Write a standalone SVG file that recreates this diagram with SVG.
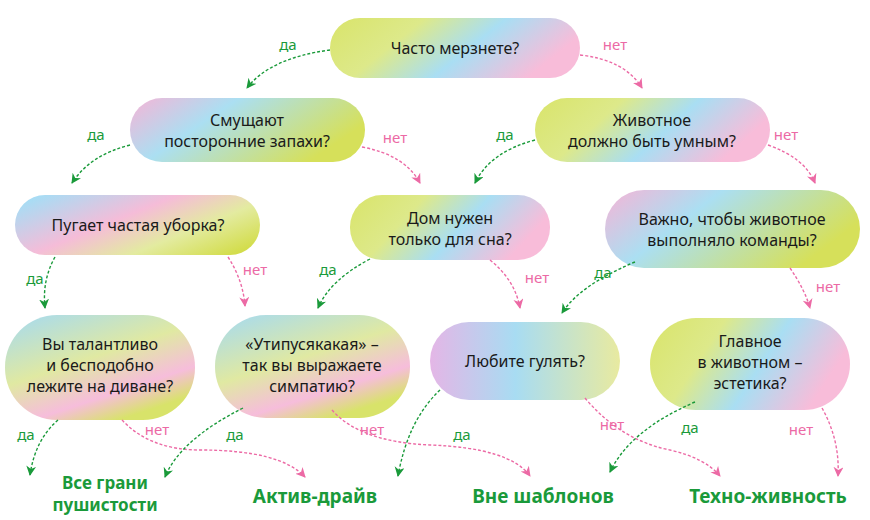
<svg xmlns="http://www.w3.org/2000/svg" width="870" height="520" viewBox="0 0 870 520">
<style>
.q{font-family:"Noto Sans","Open Sans",sans-serif;font-size:16px;fill:#1a1a1a;text-anchor:middle}
.y{font-family:"Noto Sans","Open Sans",sans-serif;font-size:15px;fill:#1a9a3a;text-anchor:middle}
.n{font-family:"Noto Sans","Open Sans",sans-serif;font-size:15px;fill:#ec6aa5;text-anchor:middle}
.o{font-family:"Noto Sans","Open Sans",sans-serif;font-size:19px;font-weight:bold;fill:#1a9a3a;text-anchor:middle}
.dy{fill:none;stroke:#1a9a3a;stroke-width:1.4;stroke-dasharray:3 2;marker-end:url(#ay)}
.dn{fill:none;stroke:#ec6aa5;stroke-width:1.4;stroke-dasharray:3 2;marker-end:url(#an)}
</style>
<defs>
<marker id="ay" markerWidth="12" markerHeight="12" refX="9" refY="5" orient="auto" markerUnits="userSpaceOnUse"><path d="M0,0 L10,5 L0,10 L3,5 z" fill="#1a9a3a"/></marker>
<marker id="an" markerWidth="12" markerHeight="12" refX="9" refY="5" orient="auto" markerUnits="userSpaceOnUse"><path d="M0,0 L10,5 L0,10 L3,5 z" fill="#ec6aa5"/></marker>
<linearGradient id="gA" x1="0" y1="0" x2="1" y2="0.3"><stop offset="0" stop-color="#d9e46a"/><stop offset="0.35" stop-color="#dde98a"/><stop offset="0.65" stop-color="#a9def3"/><stop offset="1" stop-color="#f8bcd9"/></linearGradient>
<linearGradient id="gB" x1="0" y1="0" x2="1" y2="0.4"><stop offset="0" stop-color="#f6b4d6"/><stop offset="0.4" stop-color="#abdff2"/><stop offset="1" stop-color="#d6e05a"/></linearGradient>
<linearGradient id="gC" x1="0" y1="0.2" x2="1" y2="0.8"><stop offset="0" stop-color="#a9dcf4"/><stop offset="0.4" stop-color="#f5bcd8"/><stop offset="0.7" stop-color="#e3eba0"/><stop offset="1" stop-color="#d3dd4c"/></linearGradient>
<linearGradient id="gD" x1="0" y1="0" x2="0.6" y2="1"><stop offset="0" stop-color="#a4daf3"/><stop offset="0.5" stop-color="#e0e9a2"/><stop offset="0.8" stop-color="#f6bddb"/><stop offset="1" stop-color="#d8e36a"/></linearGradient>
<linearGradient id="gE" x1="0" y1="0" x2="1" y2="0"><stop offset="0" stop-color="#e4b6e6"/><stop offset="0.45" stop-color="#a8dcf2"/><stop offset="1" stop-color="#e8eaa0"/></linearGradient>
</defs>
<g id="n1"><rect x="330" y="18" width="250" height="60" rx="30" fill="url(#gA)"/><text class="q" x="455" y="54">Часто мерзнете?</text></g>
<g id="n2"><rect x="130" y="98" width="235" height="64" rx="32" fill="url(#gB)"/><text class="q" x="247" y="126">Смущают</text><text class="q" x="247" y="147">посторонние запахи?</text></g>
<g id="n3"><rect x="535" y="98" width="235" height="64" rx="32" fill="url(#gA)"/><text class="q" x="652" y="126">Животное</text><text class="q" x="652" y="147">должно быть умным?</text></g>
<g id="n4"><rect x="15" y="195" width="245" height="60" rx="30" fill="url(#gC)"/><text class="q" x="138" y="231">Пугает частая уборка?</text></g>
<g id="n5"><rect x="350" y="195" width="200" height="65" rx="32" fill="url(#gA)"/><text class="q" x="450" y="224">Дом нужен</text><text class="q" x="450" y="245">только для сна?</text></g>
<g id="n6"><rect x="605" y="190" width="255" height="78" rx="39" fill="url(#gB)"/><text class="q" x="732" y="225">Важно, чтобы животное</text><text class="q" x="732" y="246">выполняло команды?</text></g>
<g id="n7"><rect x="5" y="315" width="190" height="105" rx="52" fill="url(#gD)"/><text class="q" x="100" y="350">Вы талантливо</text><text class="q" x="100" y="371">и бесподобно</text><text class="q" x="100" y="392">лежите на диване?</text></g>
<g id="n8"><rect x="215" y="315" width="195" height="103" rx="51" fill="url(#gD)"/><text class="q" x="312" y="350">«Утипусякакая» –</text><text class="q" x="312" y="371">так вы выражаете</text><text class="q" x="312" y="392">симпатию?</text></g>
<g id="n9"><rect x="430" y="322" width="190" height="78" rx="39" fill="url(#gE)"/><text class="q" x="525" y="367">Любите гулять?</text></g>
<g id="n10"><rect x="650" y="318" width="200" height="92" rx="46" fill="url(#gA)"/><text class="q" x="750" y="347">Главное</text><text class="q" x="750" y="368">в животном –</text><text class="q" x="750" y="389">эстетика?</text></g>
<g id="outcomes">
<text class="o" x="105" y="489" style="font-size:17px">Все грани</text><text class="o" x="105" y="511" style="font-size:17px">пушистости</text>
<text class="o" x="315" y="503">Актив-драйв</text>
<text class="o" x="543" y="503">Вне шаблонов</text>
<text class="o" x="768" y="503">Техно-живность</text>
</g>
<g id="connectors">
<path class="dy" d="M330,50 Q270,58 247,88"/>
<path class="dn" d="M580,55 Q625,60 642,88"/>
<path class="dy" d="M130,145 Q90,155 72,183"/>
<path class="dn" d="M362,147 Q405,155 420,183"/>
<path class="dy" d="M535,140 Q490,152 475,183"/>
<path class="dn" d="M768,145 Q805,158 815,183"/>
<path class="dy" d="M55,257 Q42,280 45,308"/>
<path class="dn" d="M228,257 Q243,280 245,306"/>
<path class="dy" d="M370,259 Q330,280 318,308"/>
<path class="dn" d="M490,260 Q515,280 520,308"/>
<path class="dy" d="M635,262 Q580,285 562,313"/>
<path class="dn" d="M790,268 Q805,290 810,308"/>
<path class="dy" d="M58,420 Q35,440 30,475"/>
<path class="dn" d="M122,420 Q150,450 200,450 Q280,450 305,477"/>
<path class="dy" d="M243,408 Q180,440 165,477"/>
<path class="dn" d="M332,410 Q360,442 430,445 Q510,448 530,476"/>
<path class="dy" d="M440,390 Q408,420 398,476"/>
<path class="dn" d="M585,398 Q620,440 670,450 Q705,458 720,476"/>
<path class="dy" d="M695,402 Q630,430 610,472"/>
<path class="dn" d="M822,408 Q840,440 838,476"/>
</g>
<g id="labels">
<text class="y" x="288" y="50">да</text><text class="n" x="615" y="50">нет</text>
<text class="y" x="96" y="140">да</text><text class="n" x="395" y="143">нет</text>
<text class="y" x="505" y="140">да</text><text class="n" x="786" y="140">нет</text>
<text class="y" x="35" y="284">да</text><text class="n" x="255" y="275">нет</text>
<text class="y" x="328" y="275">да</text><text class="n" x="537" y="283">нет</text>
<text class="y" x="603" y="278">да</text><text class="n" x="828" y="292">нет</text>
<text class="y" x="26" y="440">да</text><text class="n" x="157" y="435">нет</text>
<text class="y" x="235" y="440">да</text><text class="n" x="372" y="435">нет</text>
<text class="y" x="462" y="440">да</text><text class="n" x="612" y="430">нет</text>
<text class="y" x="690" y="433">да</text><text class="n" x="801" y="435">нет</text>
</g>
</svg>
